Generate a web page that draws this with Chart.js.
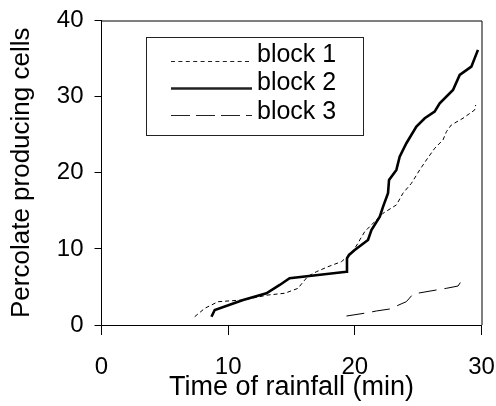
<!DOCTYPE html>
<html>
    <head>
        <script src="https://cdn.jsdelivr.net/npm/chart.js"></script>
        <style>
            body { margin: 0; background: #fff; }
            #wrap { width: 496px; height: 406px; }
        </style>
    </head>

    <body>
        <div id="wrap">
            <canvas id="rain"></canvas>
        </div>

        <script>
            const seriesNames = ['block 1', 'block 2', 'block 3'];

            const block1Time  = [7.36, 8.15, 9.2, 11.18, 13.15, 14.47, 15.52, 15.83, 16.3, 16.97, 17.88, 18.94, 19.73, 20.25, 20.39, 20.78, 22.23, 23.28, 23.8, 24.47, 25.12, 25.65, 26.31, 26.96, 27.23, 27.62, 28.54, 29.46, 29.54];
            const block1Cells = [1.09, 2.19, 3.06, 3.29, 3.94, 4.17, 4.82, 5.48, 6.4, 7.0, 7.66, 8.32, 9.42, 10.74, 11.17, 12.26, 14.68, 15.77, 17.31, 18.62, 20.37, 21.68, 23.22, 24.31, 25.4, 26.28, 27.16, 28.25, 28.9];

            const block2Time  = [8.68, 8.94, 11.18, 13.02, 14.07, 14.85, 19.34, 19.38, 19.54, 19.99, 21.04, 21.31, 21.97, 22.23, 22.62, 22.7, 23.28, 23.54, 24.07, 24.86, 25.52, 26.3, 26.7, 27.75, 28.28, 29.2, 29.72];
            const block2Cells = [1.09, 1.97, 3.29, 4.17, 5.26, 6.14, 7.0, 8.76, 9.2, 9.86, 11.17, 12.48, 14.23, 15.55, 17.31, 19.05, 20.37, 22.12, 23.88, 26.06, 27.16, 28.03, 29.13, 30.88, 32.85, 33.94, 36.14];

            const block3Time  = [19.34, 21.04, 21.7, 22.75, 24.07, 24.6, 26.44, 27.23, 28.15, 28.46];
            const block3Cells = [1.18, 1.62, 1.84, 2.1, 3.07, 4.07, 4.6, 4.82, 5.12, 5.91];

            const xTicks = [0, 10, 20, 30];
            const yTicks = [0, 10, 20, 30, 40];

            function pts(xs, ys) {
                return xs.map((x, i) => ({x: x, y: ys[i]}));
            }

            const FONT = 'Liberation Sans, Arial, sans-serif';

            // frame on top/right + legend box drawn inside plot
            const frameAndLegend = {
                id: 'frameAndLegend',
                afterDraw(chart) {
                    const c = chart.ctx;
                    const a = chart.chartArea;
                    c.save();
                    c.strokeStyle = '#000';
                    c.lineWidth = 1;
                    c.beginPath();
                    c.moveTo(a.left, a.top + 0.5);
                    c.lineTo(a.right + 0.5, a.top + 0.5);
                    c.lineTo(a.right + 0.5, a.bottom);
                    c.stroke();

                    // legend
                    c.strokeStyle = '#222';
                    c.strokeRect(146.5, 37.5, 217, 98);
                    const lineY = [61.5, 88.5, 115.5];
                    const textY = [62, 90, 118.5];
                    c.font = '25px ' + FONT;
                    c.fillStyle = '#000';
                    c.textBaseline = 'alphabetic';
                    chart.data.datasets.forEach((ds, i) => {
                        c.beginPath();
                        c.setLineDash(ds.legendDash || []);
                        c.lineWidth = ds.borderWidth;
                        c.moveTo(171, lineY[i]);
                        c.lineTo(252, lineY[i]);
                        c.stroke();
                        c.setLineDash([]);
                        c.fillText(ds.label, 257, textY[i]);
                    });
                    c.restore();
                }
            };

            new Chart(document.getElementById('rain'), {
                type: 'line',
                data: {
                    datasets: [
                        {label: seriesNames[0], data: pts(block1Time, block1Cells), borderColor: '#000', borderWidth: 1, borderDash: [4, 3], legendDash: [4, 3.4], pointRadius: 0, tension: 0},
                        {label: seriesNames[1], data: pts(block2Time, block2Cells), borderColor: '#000', borderWidth: 2.6, pointRadius: 0, tension: 0},
                        {label: seriesNames[2], data: pts(block3Time, block3Cells), borderColor: '#000', borderWidth: 1, borderDash: [18, 8], legendDash: [19, 6], pointRadius: 0, tension: 0}
                    ]
                },
                options: {
                    responsive: true,
                    maintainAspectRatio: false,
                    animation: false,
                    layout: {padding: {left: 0, right: 14.5, top: 20.5, bottom: 0}},
                    plugins: {
                        legend: {display: false},
                        tooltip: {enabled: false}
                    },
                    scales: {
                        x: {
                            type: 'linear',
                            min: 0,
                            max: 30,
                            afterBuildTicks: (s) => { s.ticks = xTicks.map(v => ({value: v})); },
                            afterFit: (s) => { s.height = 81; s.paddingLeft = 0; s.paddingRight = 0; },
                            grid: {display: true, drawOnChartArea: false, drawTicks: true, tickLength: 10, color: '#000'},
                            border: {color: '#000', width: 1},
                            ticks: {color: '#000', font: {family: FONT, size: 24}, padding: 18},
                            title: {display: true, text: 'Time of rainfall (min)', color: '#000', font: {family: FONT, size: 27}, padding: {top: 2, bottom: 2}}
                        },
                        y: {
                            min: 0,
                            max: 40,
                            afterBuildTicks: (s) => { s.ticks = yTicks.map(v => ({value: v})); },
                            afterFit: (s) => { s.width = 101.5; s.paddingTop = 0; s.paddingBottom = 0; },
                            grid: {display: true, drawOnChartArea: false, drawTicks: true, tickLength: 7, color: '#000'},
                            border: {color: '#000', width: 1},
                            ticks: {color: '#000', font: {family: FONT, size: 24}, padding: 11},
                            title: {display: true, text: 'Percolate producing cells', color: '#000', font: {family: FONT, size: 26}, padding: {top: 6, bottom: 4}}
                        }
                    }
                },
                plugins: [frameAndLegend]
            });
        </script>
    </body>
</html>
